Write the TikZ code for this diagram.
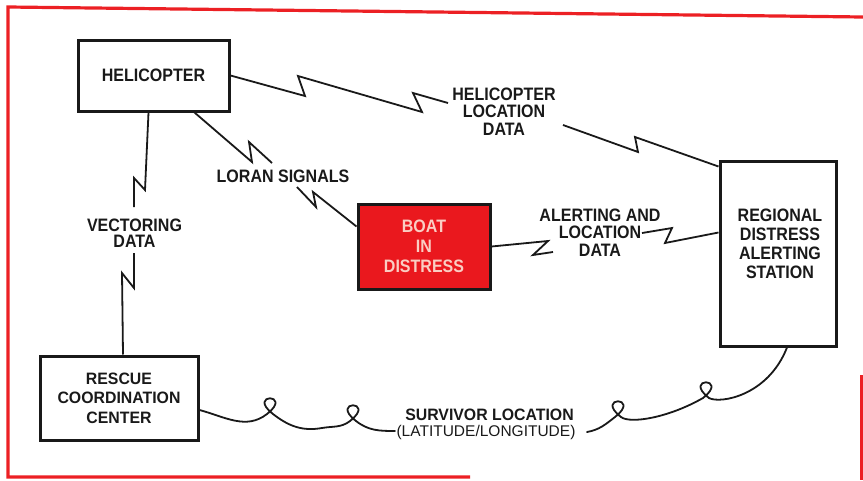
\documentclass[tikz,border=0pt]{standalone}
\usepackage{fontspec}
\newfontfamily\lf[FakeStretch=0.89]{Liberation Sans}
\newfontfamily\lfw[FakeStretch=0.96]{Liberation Sans}
\newfontfamily\lfr{Liberation Sans}
\usetikzlibrary{calc}
\definecolor{framered}{RGB}{236,32,36}
\definecolor{boatred}{RGB}{234,24,30}
\definecolor{ink}{RGB}{25,25,25}
\definecolor{boattext}{RGB}{250,205,195}
\tikzset{
  box/.style={draw=ink, line width=3pt, inner sep=0pt},
  wire/.style={draw=ink, line width=1.8pt, line join=miter},
  curl/.style={draw=ink, line width=1.8pt, line cap=round},
  lbl/.style={text=ink, align=center, inner sep=0pt, font=\lf\bfseries\fontsize{18}{19}\selectfont},
  lblw/.style={text=ink, align=center, inner sep=0pt, font=\lfw\bfseries\fontsize{16.5}{19.5}\selectfont},
  lblr/.style={text=ink, align=center, inner sep=0pt, font=\lfr\fontsize{15.5}{16}\selectfont},
  frame/.style={draw=framered, line width=3.2pt, line join=miter}
}
\begin{document}
\begin{tikzpicture}[x=1pt,y=-1pt]
\useasboundingbox (0,0) rectangle (863,480);

% red frame
\draw[frame] (470,477) -- (8,477) -- (8,7) -- (863,17);
\draw[frame] (862,375) -- (862,480);

% boxes
\node[box, lbl, minimum width=151pt, minimum height=71pt] (heli) at (153.5,75.5) {HELICOPTER};
\node[box, lbl, fill=boatred, text=boattext, minimum width=132pt, minimum height=85pt,
      font=\lf\bfseries\fontsize{18}{20}\selectfont] (boat) at (424,246.5) {BOAT\\IN\\DISTRESS};
\node[box, minimum width=116pt, minimum height=185pt] (region) at (778,253.5) {};
\node[lbl] (regtext) at (780,243.5) {REGIONAL\\DISTRESS\\ALERTING\\STATION};
\node[box, lblw, minimum width=158pt, minimum height=84pt] (rescue) at (119,398) {RESCUE\\COORDINATION\\CENTER};

% labels
\node[lbl, font=\lf\bfseries\fontsize{18}{17.5}\selectfont] (hld) at (504,111.5) {HELICOPTER\\LOCATION\\DATA};
\node[lbl] (loran) at (283,176) {LORAN SIGNALS};
\node[lbl, font=\lf\bfseries\fontsize{18}{17.5}\selectfont] (ald) at (600,232.5) {ALERTING AND\\LOCATION\\DATA};
\node[lbl, font=\lf\bfseries\fontsize{18}{16.5}\selectfont] (vd) at (134.5,233) {VECTORING\\DATA};
\node[lblw] (surv) at (489.5,414.5) {SURVIVOR LOCATION};
\node[lblr] (latlong) at (486,432) {(LATITUDE/LONGITUDE)};

% free ends at labels
\coordinate (hldW) at (448,103);
\coordinate (hldE) at (563,125);
\coordinate (loranN) at (272,163);
\coordinate (loranS) at (297,187);
\coordinate (aldW) at (553,252);
\coordinate (aldE) at (642,233);
\coordinate (vdN) at (134,207);
\coordinate (vdS) at (134,253);
\coordinate (survW) at (395,431);
\coordinate (survE) at (587,432);

% helicopter -> regional station
\draw[wire] (heli.east) -- (305,96) -- (298,76) -- (422,112) -- (413,93) -- (hldW);
\draw[wire] (hldE) -- (638,152) -- (635,137) -- ($(region.north west)+(0,7)$);

% helicopter -> boat (loran)
\draw[wire] ($(heli.south east)+(-36,0)$) -- (252,162) -- (249,142) -- (loranN);
\draw[wire] (loranS) -- (316,207) -- (313,192) -- ($(boat.north west)+(0,24)$);

% boat -> regional station
\draw[wire] (boat.east) -- (548,241) -- (533,255) -- (aldW);
\draw[wire] (aldE) -- (672,228) -- (665,243) -- ($(region.west)+(0,-21)$);

% helicopter -> rescue (vectoring)
\draw[wire] ($(heli.south)+(-5,0)$) -- (145,190) -- (134,178) -- (vdN);
\draw[wire] (vdS) -- (134,288) -- (122,273) -- ($(rescue.north)+(4,0)$);

% rescue <-> regional station (curly line)
\draw[curl] ($(rescue.east)+(0,12)$) to[out=-15,in=218] (267,414)
   .. controls (294,393) and (246,393) .. (273,414)
   to[out=-38,in=190] (322,428) to[out=10,in=218] (350,421)
   .. controls (377,400) and (329,400) .. (356,421)
   to[out=-38,in=180] (survW);
\draw[curl] (survE) to[out=10,in=218] (615,417)
   .. controls (642,396) and (594,396) .. (621,417)
   .. controls (630,424) and (668,418) .. (703,398)
   .. controls (730,377) and (682,377) .. (709,398)
   .. controls (720,404) and (768,396) .. ($(region.south)+(9,0)$);
\end{tikzpicture}
\end{document}
